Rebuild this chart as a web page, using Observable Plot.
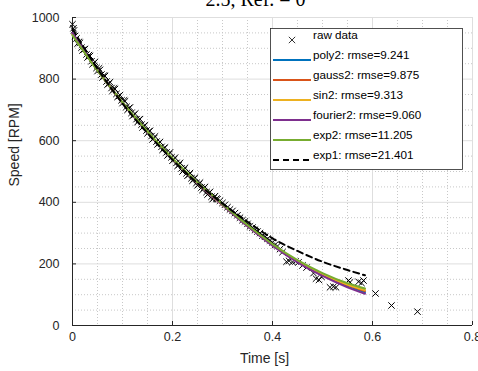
<!DOCTYPE html>
<html><head><meta charset="utf-8">
<script src="https://cdn.jsdelivr.net/npm/d3@7"></script>
<script src="https://cdn.jsdelivr.net/npm/@observablehq/plot@0.6"></script>
<style>
body{margin:0;background:#fff;}
#chart{position:relative;width:478px;height:371px;overflow:hidden;}
</style></head><body><div id="chart"></div>
<script>
const titleText = "2.5, Ref. = 0";
const xLabel = "Time [s]";
const yLabel = "Speed [RPM]";
const xTicks = [0, 0.2, 0.4, 0.6, 0.8];
const yTicks = [0, 200, 400, 600, 800, 1000];
const xMinor = [0.05, 0.1, 0.15, 0.25, 0.3, 0.35, 0.45, 0.5, 0.55, 0.65, 0.7, 0.75];
const yMinor = [50, 100, 150, 250, 300, 350, 450, 500, 550, 650, 700, 750, 850, 900, 950];

const rawTime = [0.000,0.002,0.003,0.005,0.008,0.010,0.013,0.015,0.018,0.020,0.023,0.025,0.028,0.030,0.033,0.035,0.038,0.040,0.043,0.045,0.048,0.050,0.053,0.055,0.058,0.060,0.063,0.065,0.068,0.070,0.073,0.075,0.078,0.080,0.083,0.085,0.088,0.090,0.093,0.095,0.098,0.100,0.103,0.105,0.108,0.110,0.113,0.115,0.118,0.120,0.123,0.125,0.128,0.130,0.133,0.135,0.138,0.140,0.143,0.145,0.148,0.150,0.153,0.155,0.158,0.160,0.163,0.165,0.168,0.170,0.173,0.175,0.178,0.180,0.183,0.185,0.188,0.190,0.193,0.195,0.198,0.200,0.203,0.205,0.208,0.210,0.213,0.215,0.218,0.220,0.223,0.225,0.228,0.230,0.233,0.235,0.238,0.240,0.243,0.245,0.248,0.250,0.253,0.255,0.258,0.260,0.263,0.265,0.268,0.270,0.273,0.275,0.278,0.280,0.283,0.285,0.288,0.290,0.295,0.300,0.305,0.310,0.315,0.320,0.325,0.330,0.335,0.340,0.345,0.350,0.355,0.360,0.365,0.370,0.375,0.380,0.385,0.390,0.395,0.400,0.405,0.410,0.415,0.420,0.428,0.433,0.440,0.446,0.452,0.460,0.468,0.482,0.487,0.493,0.498,0.515,0.522,0.527,0.552,0.555,0.572,0.578,0.582,0.606,0.638,0.690];
const rawSpeed = [978,965,958,940,932,915,921,918,902,893,896,898,880,870,878,875,858,848,852,856,836,826,835,830,815,805,812,810,792,782,786,790,771,762,770,768,752,742,745,748,731,722,731,728,710,700,706,708,690,680,684,688,670,660,668,670,652,643,648,650,633,624,630,632,615,604,608,614,597,588,592,596,580,570,576,578,562,552,556,562,546,535,540,545,528,518,522,528,510,500,506,512,494,486,490,495,478,470,476,480,463,455,459,464,448,440,446,450,433,425,430,434,418,410,415,420,412,410,405,398,392,384,377,372,365,358,350,342,338,330,322,318,311,305,300,292,288,282,276,270,262,258,248,238,207,210,206,208,205,195,188,170,152,148,158,124,126,124,146,140,142,138,146,104,65,45];

const fitTime = [0, 0.05, 0.1, 0.15, 0.2, 0.25, 0.3, 0.35, 0.4, 0.45, 0.5, 0.55, 0.585];
const poly2    = [945, 829, 723, 628, 541, 462, 392, 324, 261, 208, 165, 129, 108];
const gauss2   = [946, 829, 723, 628, 541, 462, 391, 323, 261, 208, 166, 131, 112];
const sin2     = [945, 829, 723, 628, 541, 462, 392, 324, 262, 209, 167, 133, 115];
const fourier2 = [950, 830, 722, 627, 541, 462, 391, 322, 259, 205, 161, 124, 103];
const exp2     = [942, 828, 724, 630, 543, 464, 394, 326, 264, 212, 170, 137, 120];
const exp1     = [962, 834, 721, 624, 538, 462, 396, 337, 283, 242, 207, 180, 163];

const seriesNames = ["poly2", "gauss2", "sin2", "fourier2", "exp2", "exp1"];
const seriesValues = [poly2, gauss2, sin2, fourier2, exp2, exp1];
const rmse = [9.241, 9.875, 9.313, 9.060, 11.205, 21.401];
const colors = ["#0072BD", "#D95319", "#EDB120", "#7E2F8E", "#77AC30", "#000000"];

const raw = rawTime.map((t, i) => ({t, v: rawSpeed[i]}));
const fits = seriesNames.map((name, i) => fitTime.map((t, j) => ({t, v: seriesValues[i][j], s: name})));

const font = "Liberation Sans, Arial, Helvetica, sans-serif";
const fitMarks = fits.map((d, i) => Plot.line(d, {
  x: "t", y: "v", stroke: colors[i], strokeWidth: 2, curve: "monotone-x",
  strokeDasharray: seriesNames[i] === "exp1" ? "6,4" : null
}));

const plot = Plot.plot({
  width: 478, height: 371,
  marginLeft: 72, marginRight: 6, marginTop: 17, marginBottom: 46,
  style: {fontFamily: font, fontSize: "12.5px", color: "#262626", background: "#fff"},
  x: {domain: [0, 0.8]},
  y: {domain: [0, 1000]},
  marks: [
    Plot.gridX({ticks: xMinor, stroke: "#c8c8c8", strokeOpacity: 1, strokeDasharray: "1,2"}),
    Plot.gridY({ticks: yMinor, stroke: "#c8c8c8", strokeOpacity: 1, strokeDasharray: "1,2"}),
    Plot.gridX({ticks: xTicks, stroke: "#dedede", strokeOpacity: 1}),
    Plot.gridY({ticks: yTicks, stroke: "#dedede", strokeOpacity: 1}),
    Plot.ruleX([0], {stroke: "#262626", strokeWidth: 1}),
    Plot.ruleY([0], {stroke: "#262626", strokeWidth: 1}),
    Plot.axisX({ticks: xTicks, tickSize: -4, tickPadding: 11, tickFormat: d => String(d), label: null, stroke: "#262626", fill: "#262626"}),
    Plot.axisY({ticks: yTicks, tickSize: -4, tickPadding: 17, tickFormat: d => String(d), label: null, stroke: "#262626", fill: "#262626"}),
    Plot.dot(raw, {x: "t", y: "v", symbol: "times", r: 3, stroke: "black", strokeWidth: 1}),
    ...fitMarks,
    Plot.text([titleText], {frameAnchor: "top", dy: -12, dx: -17, lineAnchor: "bottom", fontFamily: "Liberation Serif, Times New Roman, serif", fontSize: 20, fill: "black"}),
    Plot.text([xLabel], {frameAnchor: "bottom", dy: 37, dx: -8, fontSize: 14, fill: "#262626"}),
    Plot.text([yLabel], {frameAnchor: "left", dx: -58, dy: 15, rotate: -90, fontSize: 14, fill: "#262626"})
  ]
});

document.getElementById("chart").appendChild(plot);

// legend
const svg = d3.select(plot);
const g = svg.append("g").attr("font-family", font).attr("font-size", "11.7px").attr("text-anchor", "start");
g.append("rect").attr("x", 270.5).attr("y", 28.5).attr("width", 192).attr("height", 141)
  .attr("fill", "white").attr("stroke", "#262626").attr("stroke-width", 0.8);
g.append("path").attr("transform", "translate(292,40)")
  .attr("d", d3.symbol(d3.symbolTimes, 28)())
  .attr("fill", "none").attr("stroke", "black").attr("stroke-width", 0.8);
g.append("text").attr("x", 313).attr("y", 38.5).attr("fill", "black").attr("text-anchor", "start").text("raw data");
seriesNames.forEach((name, i) => {
  const y = 60 + 20 * i;
  g.append("line").attr("x1", 273).attr("x2", 311).attr("y1", y).attr("y2", y)
    .attr("stroke", colors[i]).attr("stroke-width", 2)
    .attr("stroke-dasharray", name === "exp1" ? "6,4" : null);
  g.append("text").attr("x", 313).attr("y", y - 1.5).attr("fill", "black").attr("text-anchor", "start")
    .text(`${name}: rmse=${rmse[i].toFixed(3)}`);
});
</script>
</body></html>
